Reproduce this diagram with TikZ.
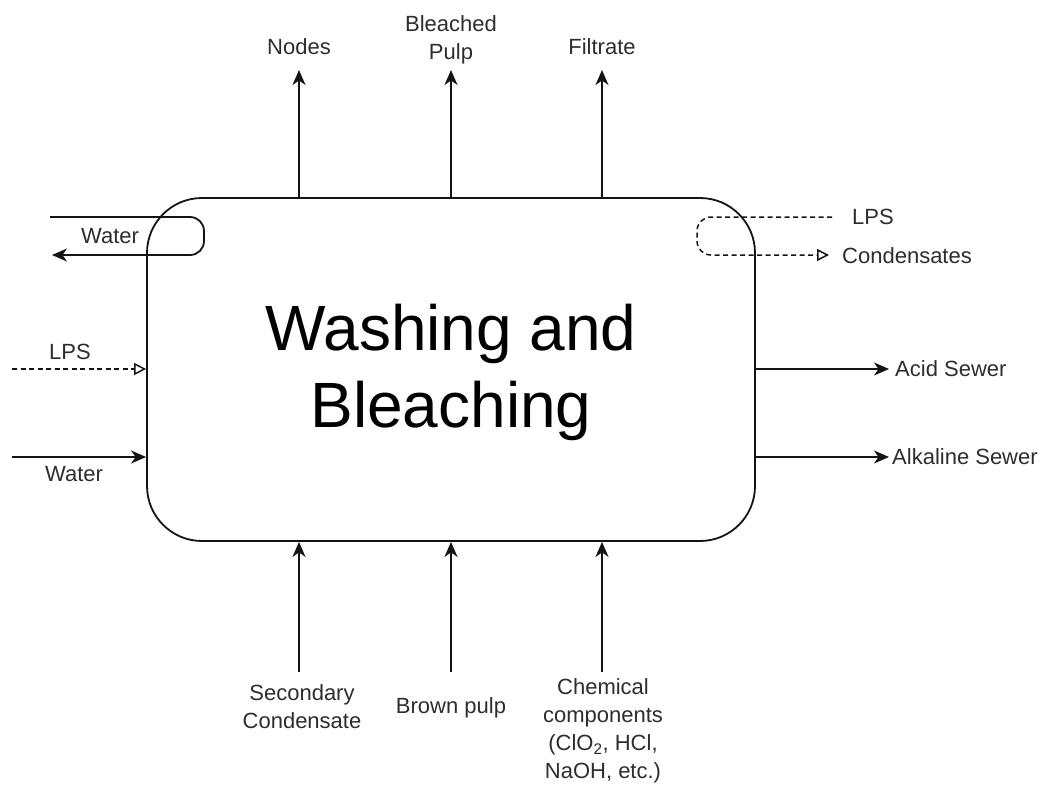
\documentclass[tikz,border=0pt]{standalone}
\usepackage{fontspec}
\setmainfont{Liberation Sans}
\usetikzlibrary{arrows.meta}
\definecolor{ink}{RGB}{20,20,20}
\definecolor{txt}{RGB}{45,45,45}
\begin{document}
\begin{tikzpicture}[x=1pt,y=-1pt,
  flow/.style={line width=1.8pt,draw=ink,-{Stealth[length=15pt,width=13pt,inset=4.5pt]}},
  steam/.style={line width=1.5pt,draw=ink,dash pattern=on 5pt off 3.5pt,-{Triangle[open,length=12pt,width=12pt]}},
  lbl/.style={text=txt,font=\fontsize{22}{28}\selectfont,align=center,inner sep=0pt},
  lbll/.style={lbl,anchor=west}]
\useasboundingbox (0,0) rectangle (1046,785);

% main process block
\node[draw=ink,line width=1.8pt,rounded corners=55pt,minimum width=608pt,minimum height=343pt] (wb) at (451,369.5) {};
\node[font=\fontsize{64}{77}\selectfont,align=center,text=black,inner sep=0pt] (title) at (451,372)
  {Washing and\\Bleaching};

% free ends of the streams
\coordinate (tNodes) at (299,70);
\coordinate (tPulp) at (451,70);
\coordinate (tFilt) at (602,70);
\coordinate (bSec) at (299,672);
\coordinate (bBrown) at (451,672);
\coordinate (bChem) at (602,672);
\coordinate (lLps) at (12,369);
\coordinate (lWater) at (12,457);
\coordinate (rAcid) at (889,369);
\coordinate (rAlk) at (889,457);
\coordinate (wIn) at (50,217);
\coordinate (wOut) at (52,255);
\coordinate (sIn) at (832,217);
\coordinate (sOut) at (829,255);

% outputs on top
\draw[flow] (tNodes |- wb.north) -- (tNodes);
\draw[flow] (tPulp |- wb.north) -- (tPulp);
\draw[flow] (tFilt |- wb.north) -- (tFilt);
\node[lbl] (nNodes) at (299,47) {Nodes};
\node[lbl] (nPulp) at (451,40) {Bleached\\Pulp};
\node[lbl] (nFilt) at (602,47) {Filtrate};

% inputs from below
\draw[flow] (bSec) -- (bSec |- wb.south);
\draw[flow] (bBrown) -- (bBrown |- wb.south);
\draw[flow] (bChem) -- (bChem |- wb.south);
\node[lbl] (nSec) at (302,707) {Secondary\\Condensate};
\node[lbl] (nBrown) at (451,708) {Brown pulp};
\node[lbl] (nChem) at (603,731) {Chemical\\components\\(ClO\textsubscript{2}, HCl,\\NaOH, etc.)};

% inputs on the left
\draw[steam] (lLps) -- (lLps -| wb.west);
\draw[flow] (lWater) -- (lWater -| wb.west);
\node[lbl] (nLps) at (70,352) {LPS};
\node[lbl] (nWater) at (74,474) {Water};

% outputs on the right
\draw[flow] (rAcid -| wb.east) -- (rAcid);
\draw[flow] (rAlk -| wb.east) -- (rAlk);
\node[lbll] (nAcid) at (895,369) {Acid Sewer};
\node[lbll] (nAlk) at (892,457) {Alkaline Sewer};

% cooling water loop, top left
\draw[flow,rounded corners=14pt] (wIn) -- (204,217) -- (204,255) -- (wOut);
\node[lbl] (nLoopW) at (110,236) {Water};

% steam loop, top right
\draw[steam,rounded corners=14pt] (sIn) -- (697,217) -- (697,255) -- (sOut);
\node[lbl] (nLoopS) at (873,217) {LPS};
\node[lbll] (nCond) at (842,256) {Condensates};
\end{tikzpicture}
\end{document}
